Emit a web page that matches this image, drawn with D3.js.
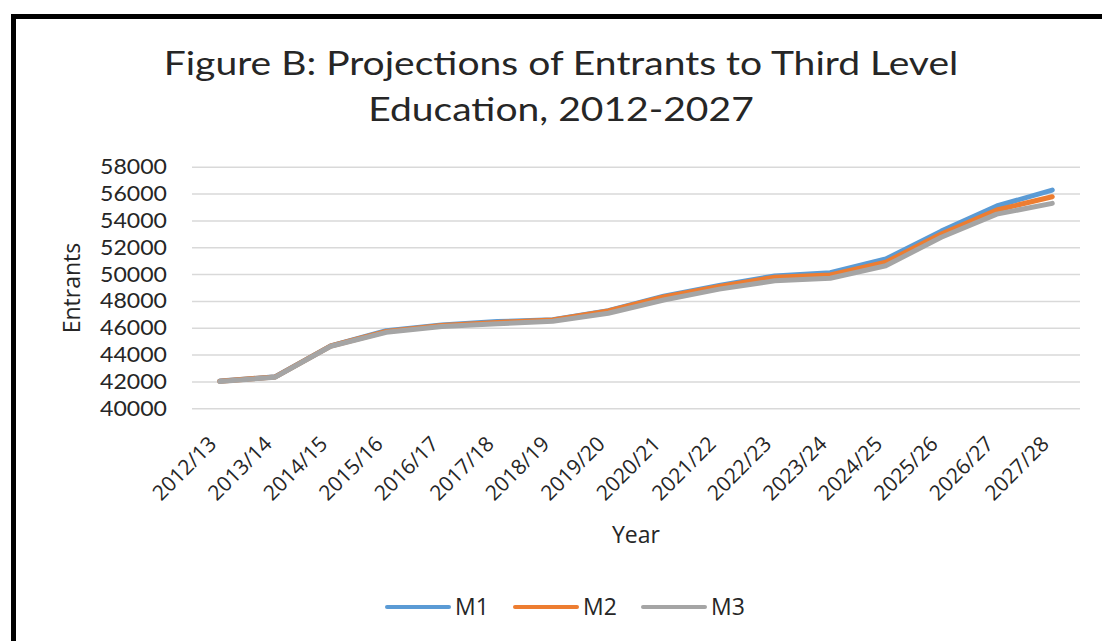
<!DOCTYPE html>
<html>
<head>
<meta charset="utf-8">
<script src="https://cdn.jsdelivr.net/npm/d3@7"></script>
<style>
  body { margin: 0; background: #fff; }
  text { font-family: Lato, "Open Sans", sans-serif; fill: #262626; }
</style>
</head>
<body>
<script>
// Chart data
var years = ["2012/13", "2013/14", "2014/15", "2015/16", "2016/17", "2017/18", "2018/19", "2019/20",
  "2020/21", "2021/22", "2022/23", "2023/24", "2024/25", "2025/26", "2026/27", "2027/28"];
var m1 = [42030, 42350, 44650, 45780, 46200, 46460, 46600, 47270, 48350, 49150, 49860, 50100, 51120, 53200, 55070, 56260];
var m2 = [42020, 42340, 44640, 45720, 46170, 46400, 46580, 47250, 48300, 49080, 49760, 49930, 50880, 52990, 54770, 55760];
var m3 = [42000, 42320, 44620, 45660, 46100, 46300, 46480, 47080, 48070, 48880, 49500, 49690, 50620, 52740, 54470, 55270];
var yTicks = [40000, 42000, 44000, 46000, 48000, 50000, 52000, 54000, 56000, 58000];

var seriesNames = ["M1", "M2", "M3"];
var seriesColors = ["#5b9bd5", "#ed7d31", "#a5a5a5"];
var seriesData = [m1, m2, m3];

var svgWidth = 1102;
var svgHeight = 641;

// the source picture is a bit stretched sideways
var titleStretch = 1.22;
var labelStretch = 1.05;

// plot area
var plot = { left: 192, right: 1080, top: 166.7, bottom: 408.3 };

var svg = d3.select("body")
  .append("svg")
  .attr("width", svgWidth)
  .attr("height", svgHeight);

// frame of the chart object (runs off the right and bottom edges)
svg.append("rect")
  .attr("x", 13.5)
  .attr("y", 16.5)
  .attr("width", 1200)
  .attr("height", 800)
  .attr("fill", "#fff")
  .attr("stroke", "#000")
  .attr("stroke-width", 5);

// title
var title = svg.append("text")
  .attr("text-anchor", "middle")
  .attr("transform", `translate(561,0) scale(${titleStretch},1)`)
  .style("font-size", "32px");
title.append("tspan").attr("x", 0).attr("y", 75).text("Figure B: Projections of Entrants to Third Level");
title.append("tspan").attr("x", 0).attr("y", 121).text("Education, 2012-2027");

var x = d3.scaleBand()
  .domain(years)
  .range([plot.left, plot.right])
  .padding(0);

var y = d3.scaleLinear()
  .domain([40000, 58000])
  .range([plot.bottom, plot.top]);

// horizontal gridlines + y labels
var yAxis = d3.axisLeft(y)
  .tickValues(yTicks)
  .tickSize(-(plot.right - plot.left))
  .tickPadding(25)
  .tickFormat(d3.format("d"));

var yG = svg.append("g")
  .attr("transform", `translate(${plot.left},0)`)
  .call(yAxis);
yG.select(".domain").remove();
yG.selectAll(".tick line").attr("stroke", "#d9d9d9").attr("stroke-width", 1.5);
yG.selectAll(".tick text")
  .style("font-size", "22px")
  .style("font-family", "Lato, 'Open Sans', sans-serif")
  .attr("fill", "#262626")
  .attr("x", -25 / labelStretch)
  .attr("transform", `scale(${labelStretch},1)`);

// x labels, rotated
var xAxis = d3.axisBottom(x).tickSize(0).tickPadding(0);
var xG = svg.append("g")
  .attr("transform", `translate(0,${plot.bottom})`)
  .call(xAxis);
xG.select(".domain").remove();
xG.selectAll(".tick text")
  .style("font-size", "21px")
  .style("font-family", "'Open Sans', 'Noto Sans', sans-serif")
  .attr("fill", "#262626")
  .attr("text-anchor", "end")
  .attr("dy", null)
  .attr("y", null)
  .attr("transform", "translate(-2,37) rotate(-45)");

// axis titles
svg.append("text")
  .attr("transform", "translate(80,288) rotate(-90)")
  .attr("text-anchor", "middle")
  .style("font-family", "'Open Sans', sans-serif")
  .style("font-size", "23px")
  .text("Entrants");

svg.append("text")
  .attr("x", (plot.left + plot.right) / 2)
  .attr("y", 543)
  .attr("text-anchor", "middle")
  .style("font-family", "'Open Sans', sans-serif")
  .style("font-size", "23px")
  .text("Year");

// series lines
var line = d3.line()
  .x(function(d, i) { return x(years[i]) + x.bandwidth() / 2; })
  .y(function(d) { return y(d); });

svg.selectAll(".series")
  .data(seriesData)
  .enter()
  .append("path")
  .attr("class", "series")
  .attr("d", line)
  .attr("fill", "none")
  .attr("stroke", function(d, i) { return seriesColors[i]; })
  .attr("stroke-width", 5)
  .attr("stroke-linejoin", "round")
  .attr("stroke-linecap", "round");

// legend
var legendX = [387, 515, 643];
var legend = svg.selectAll(".legend")
  .data(seriesNames)
  .enter()
  .append("g")
  .attr("class", "legend")
  .attr("transform", function(d, i) { return `translate(${legendX[i]},607)`; });

legend.append("line")
  .attr("x1", 0).attr("x2", 62)
  .attr("y1", 0).attr("y2", 0)
  .attr("stroke", function(d, i) { return seriesColors[i]; })
  .attr("stroke-width", 4)
  .attr("stroke-linecap", "round");

legend.append("text")
  .attr("x", 68)
  .attr("y", 8)
  .style("font-family", "'Open Sans', sans-serif")
  .style("font-size", "23px")
  .text(function(d) { return d; });
</script>
</body>
</html>
